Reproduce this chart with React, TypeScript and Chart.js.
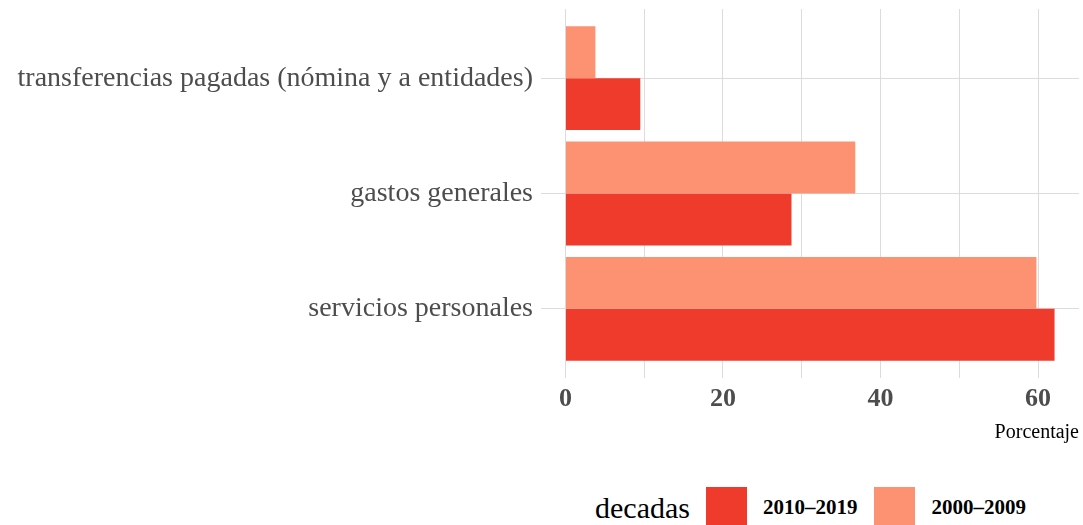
import React, { useEffect, useRef } from "react";
import { Chart, registerables } from "chart.js";

Chart.register(...registerables);

const categories = [
  "transferencias pagadas (nómina y a entidades)",
  "gastos generales",
  "servicios personales",
];
const decadas = ["2010–2019", "2000–2009"];
const values2010 = [9.5, 28.7, 62.1];
const values2000 = [3.8, 36.8, 59.8];
const xTicks = [0, 10, 20, 30, 40, 50, 60];
const xTickLabels = ["0", "", "20", "", "40", "", "60"];
const colors = ["#EF3B2C", "#FC9272"];

const FONT = "'Liberation Serif', 'Times New Roman', serif";

export default function App() {
  const ref = useRef<HTMLCanvasElement | null>(null);

  useEffect(() => {
    if (!ref.current) return;
    const pos = (i: number) => categories.length - i;
    const chart = new Chart(ref.current, {
      type: "bar",
      data: {
        datasets: [
          {
            label: decadas[1],
            data: values2000.map((v, i) => ({ x: v, y: pos(i) })),
            backgroundColor: colors[1],
            borderWidth: 0,
            categoryPercentage: 0.9,
            barPercentage: 1,
          },
          {
            label: decadas[0],
            data: values2010.map((v, i) => ({ x: v, y: pos(i) })),
            backgroundColor: colors[0],
            borderWidth: 0,
            categoryPercentage: 0.9,
            barPercentage: 1,
          },
        ],
      },
      options: {
        indexAxis: "y",
        animation: false,
        responsive: false,
        maintainAspectRatio: false,
        layout: { padding: { top: 9, right: 4, left: 0, bottom: 0 } },
        plugins: { legend: { display: false }, tooltip: { enabled: false } },
        scales: {
          x: {
            type: "linear",
            min: -3.105,
            max: 65.205,
            offset: false,
            afterBuildTicks: (s: any) => {
              s.ticks = xTicks.map((v) => ({ value: v }));
            },
            afterFit: (s: any) => {
              s.height = 82;
              s.paddingLeft = 0;
              s.paddingRight = 0;
            },
            border: { display: false },
            grid: { color: "#DCDCDC", lineWidth: 1, drawTicks: false, offset: false },
            ticks: {
              padding: 6,
              color: "#4D4D4D",
              font: { family: FONT, size: 26, weight: "bold" },
              callback: (v: any) => {
                const i = xTicks.indexOf(Number(v));
                return i >= 0 ? xTickLabels[i] : "";
              },
            },
            title: {
              display: true,
              text: "Porcentaje",
              align: "end",
              color: "#000000",
              font: { family: FONT, size: 20 },
              padding: { top: 0, bottom: 15 },
            },
          },
          y: {
            type: "linear",
            min: 0.4,
            max: 3.6,
            offset: false,
            afterBuildTicks: (s: any) => {
              s.ticks = categories.map((_, i) => ({ value: pos(i) }));
            },
            afterFit: (s: any) => {
              s.width = 541;
              s.paddingTop = 0;
              s.paddingBottom = 0;
            },
            border: { display: false },
            grid: { color: "#DCDCDC", lineWidth: 1, drawTicks: false, offset: false },
            ticks: {
              padding: 8,
              color: "#4D4D4D",
              font: { family: FONT, size: 28 },
              callback: (v: any) => {
                const i = categories.length - Number(v);
                return categories[i] ?? "";
              },
            },
          },
        },
      },
    } as any);
    return () => chart.destroy();
  }, []);

  const legendItems = [
    { label: decadas[0], color: colors[0] },
    { label: decadas[1], color: colors[1] },
  ];

  return (
    <div
      style={{
        position: "fixed",
        left: 0,
        top: 0,
        width: 1083,
        height: 525,
        overflow: "hidden",
        background: "#FFFFFF",
        fontFamily: FONT,
      }}
    >
      <canvas ref={ref} width={1083} height={460} style={{ display: "block" }} />
      <div
        style={{
          position: "absolute",
          left: 595,
          top: 487,
          display: "flex",
          alignItems: "flex-start",
          whiteSpace: "nowrap",
        }}
      >
        <span style={{ fontSize: 30, color: "#000", lineHeight: "41px", marginRight: 16 }}>decadas</span>
        {legendItems.map((it) => (
          <span key={it.label} style={{ display: "flex", alignItems: "flex-start" }}>
            <span style={{ width: 41, height: 41, background: it.color, display: "inline-block" }} />
            <span
              style={{
                fontSize: 21,
                fontWeight: "bold",
                color: "#000",
                lineHeight: "41px",
                marginLeft: 16,
                marginRight: 17,
              }}
            >
              {it.label}
            </span>
          </span>
        ))}
      </div>
    </div>
  );
}
